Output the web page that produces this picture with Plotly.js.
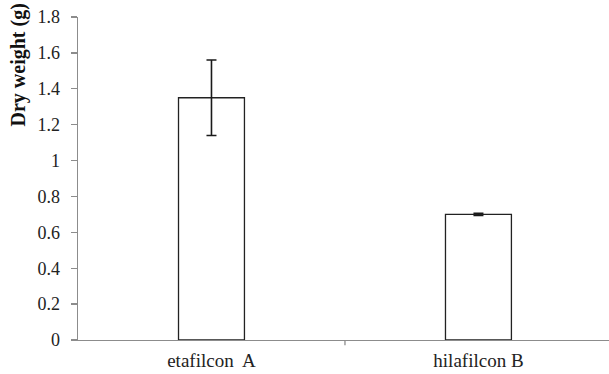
<!DOCTYPE html>
<html>
<head>
<meta charset="utf-8">
<script src="https://cdn.plot.ly/plotly-3.0.1.min.js"></script>
<style>html,body{margin:0;padding:0;background:#fff;}#chart{width:609px;height:374px;}</style>
</head>
<body>
<div id="chart"></div>
<script>
var categories = ["etafilcon  A", "hilafilcon B"];
var dryWeight = [1.35, 0.70];
var errors = [0.21, 0.006];
var yTicks = [0, 0.2, 0.4, 0.6, 0.8, 1, 1.2, 1.4, 1.6, 1.8];
var yTickLabels = ["0", "0.2", "0.4", "0.6", "0.8", "1", "1.2", "1.4", "1.6", "1.8"];
var yTitle = "Dry weight (g)";

var serif = "'Liberation Serif', 'Times New Roman', Times, serif";

var trace = {
  type: "bar",
  x: [0, 1],
  y: dryWeight,
  width: 0.247,
  marker: {color: "#ffffff", line: {color: "#222222", width: 1.3}},
  error_y: {type: "data", array: errors, visible: true, color: "#1a1a1a", thickness: 1.6, width: 5}
};

var layout = {
  width: 609, height: 374,
  margin: {l: 78, r: 0, t: 17, b: 34, pad: 0},
  paper_bgcolor: "#ffffff", plot_bgcolor: "#ffffff",
  showlegend: false,
  font: {family: serif, size: 18, color: "#222"},
  xaxis: {
    range: [-0.5, 1.489],
    tickmode: "array", tickvals: [0, 1], ticktext: categories,
    ticks: "", showgrid: false, zeroline: false,
    showline: true, linecolor: "#8c8c8c", linewidth: 1.3,
    ticklabelstandoff: 3,
    tickfont: {size: 19, family: serif, color: "#222"},
    fixedrange: true
  },
  yaxis: {
    range: [0, 1.8],
    tickmode: "array", tickvals: yTicks, ticktext: yTickLabels,
    ticks: "outside", ticklen: 6, tickcolor: "#8c8c8c", tickwidth: 1.3,
    ticklabelstandoff: 7,
    showgrid: false, zeroline: false,
    showline: true, linecolor: "#8c8c8c", linewidth: 1.3,
    tickfont: {size: 18, family: serif, color: "#222"},
    fixedrange: true
  },
  annotations: [
    {text: "<b>" + yTitle + "</b>", xref: "paper", yref: "paper", x: -0.113, y: 0.853,
     xanchor: "center", yanchor: "middle", textangle: -90, showarrow: false,
     font: {size: 20, family: serif, color: "#111"}}
  ],
  shapes: [
    {type: "line", xref: "x", yref: "paper", x0: 0.5, x1: 0.5, y0: 0, y1: -0.016, line: {color: "#8c8c8c", width: 1.3}}
  ]
};

Plotly.newPlot("chart", [trace], layout, {displayModeBar: false, staticPlot: true});
</script>
</body>
</html>
